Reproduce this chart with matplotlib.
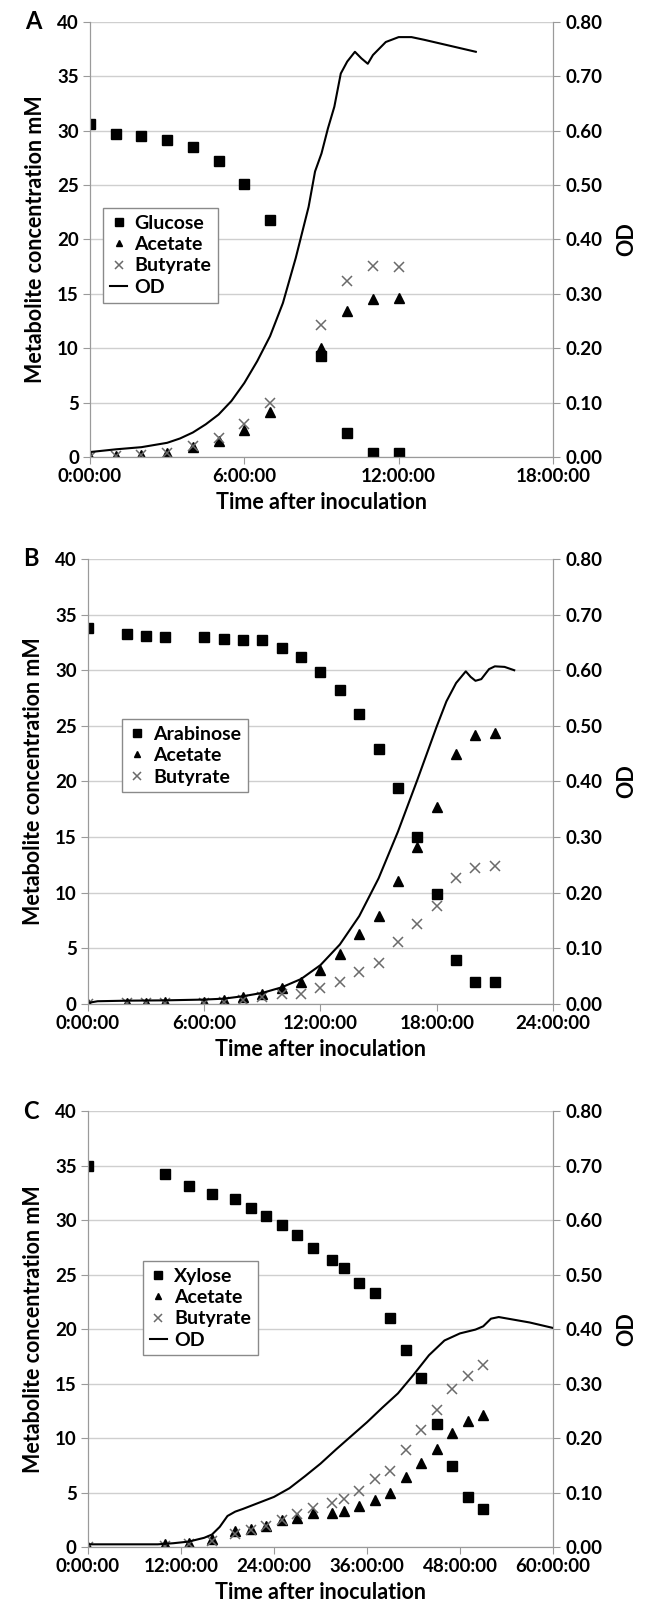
#Metabolite_and_OD_growth_curves

#Importing_Library
import numpy as np
import matplotlib
matplotlib.use('Agg')
import matplotlib.pyplot as plt

plt.rcParams['font.family'] = ['Lato', 'DejaVu Sans']
plt.rcParams['font.weight'] = 'bold'
plt.rcParams['axes.labelweight'] = 'bold'

#Data_panel_A (hours, mM, OD)
a_time = [0, 1, 2, 3, 4, 5, 6, 7, 9, 10, 11, 12]
a_glucose = [30.6, 29.7, 29.5, 29.1, 28.5, 27.2, 25.1, 21.8, 9.3, 2.2, 0.4, 0.4]
a_acetate = [0.0, 0.1, 0.2, 0.4, 0.9, 1.5, 2.5, 4.1, 10.0, 13.4, 14.5, 14.6]
a_butyrate = [0.0, 0.1, 0.2, 0.4, 1.0, 1.7, 3.0, 5.0, 12.1, 16.2, 17.6, 17.5]
a_od_time = [0, 1, 2, 3, 3.5, 4, 4.5, 5, 5.5, 6, 6.5, 7, 7.5, 8, 8.5, 8.75, 9, 9.25,
             9.5, 9.75, 10, 10.3, 10.55, 10.8, 11, 11.5, 12, 12.5, 13, 14, 15]
a_od = [0.009, 0.014, 0.018, 0.026, 0.034, 0.045, 0.060, 0.078, 0.103, 0.136, 0.176,
        0.222, 0.283, 0.366, 0.460, 0.525, 0.558, 0.604, 0.644, 0.705, 0.727, 0.745,
        0.733, 0.723, 0.739, 0.763, 0.772, 0.772, 0.767, 0.756, 0.745]

#Data_panel_B
b_time = [0, 2, 3, 4, 6, 7, 8, 9, 10, 11, 12, 13, 14, 15, 16, 17, 18, 19, 20, 21]
b_arabinose = [33.8, 33.3, 33.1, 33.0, 33.0, 32.8, 32.7, 32.7, 32.0, 31.2, 29.8, 28.2,
               26.1, 22.9, 19.4, 15.0, 9.9, 4.0, 2.0, 2.0]
b_acetate = [0.0, 0.1, 0.1, 0.15, 0.2, 0.35, 0.6, 0.9, 1.4, 2.0, 3.1, 4.5, 6.3, 7.9,
             11.1, 14.1, 17.7, 22.5, 24.2, 24.4]
b_butyrate = [0.0, 0.05, 0.05, 0.1, 0.1, 0.2, 0.4, 0.6, 0.9, 0.9, 1.4, 2.0, 2.9, 3.7,
              5.6, 7.2, 8.8, 11.3, 12.2, 12.4]
b_od_time = [0, 0.5, 2, 4, 6, 7, 8, 9, 10, 11, 12, 13, 14, 15, 16, 17, 18, 18.5, 19,
             19.5, 19.75, 20, 20.3, 20.7, 21, 21.5, 22]
b_od = [0.002, 0.005, 0.006, 0.0066, 0.008, 0.0096, 0.014, 0.020, 0.030, 0.045, 0.070,
        0.107, 0.158, 0.226, 0.310, 0.403, 0.499, 0.544, 0.577, 0.598, 0.588, 0.581,
        0.584, 0.602, 0.607, 0.606, 0.600]

#Data_panel_C
c_time = [0, 10, 13, 16, 19, 21, 23, 25, 27, 29, 31.5, 33, 35, 37, 39, 41, 43, 45, 47,
          49, 51]
c_xylose = [35.0, 34.2, 33.1, 32.4, 31.9, 31.1, 30.4, 29.5, 28.6, 27.4, 26.3, 25.6, 24.2,
            23.3, 21.0, 18.1, 15.5, 11.3, 7.4, 4.6, 3.5]
c_acetate = [0.0, 0.3, 0.4, 0.7, 1.5, 1.7, 1.9, 2.5, 2.7, 3.1, 3.1, 3.3, 3.8, 4.3, 5.0,
             6.4, 7.7, 9.0, 10.5, 11.6, 12.1]
c_butyrate = [0.0, 0.1, 0.3, 0.6, 1.2, 1.6, 1.9, 2.5, 3.0, 3.6, 4.0, 4.4, 5.1, 6.2, 7.0,
              8.9, 10.7, 12.6, 14.5, 15.7, 16.7]
c_od_time = [0, 5, 9, 11, 13, 15, 16, 17, 18, 19, 20, 22, 24, 26, 28, 30, 32, 34, 36,
             38, 40, 42, 44, 46, 48, 50, 51, 52, 53, 55, 57, 60]
c_od = [0.005, 0.005, 0.005, 0.007, 0.010, 0.017, 0.023, 0.037, 0.057, 0.065, 0.070,
        0.081, 0.092, 0.108, 0.130, 0.153, 0.179, 0.204, 0.229, 0.256, 0.282, 0.316,
        0.352, 0.379, 0.392, 0.399, 0.405, 0.419, 0.422, 0.417, 0.412, 0.402]

#Axis_ticks
ab_xticks = [0, 6, 12, 18]
ab_xlabels = ['0:00:00', '6:00:00', '12:00:00', '18:00:00']
b_xticks = [0, 6, 12, 18, 24]
b_xlabels = ['0:00:00', '6:00:00', '12:00:00', '18:00:00', '24:00:00']
c_xticks = [0, 12, 24, 36, 48, 60]
c_xlabels = ['0:00:00', '12:00:00', '24:00:00', '36:00:00', '48:00:00', '60:00:00']
conc_ticks = np.arange(0, 41, 5)
od_ticks = np.arange(0, 0.81, 0.1)

grid_col = '#cfcfcf'
spine_col = '#9a9a9a'
tick_fs = 13.5
label_fs = 15.5


def panel(rect, letter, t, sugar, sugar_name, ace, but, od_t, od, xticks, xlabels,
          leg_xy, od_in_legend):
    ax = fig.add_axes(rect)
    ax.set_xlim(xticks[0], xticks[-1])
    ax.set_ylim(0, 40)
    ax.set_yticks(conc_ticks, labels=['%d' % v for v in conc_ticks],
                  fontweight='bold')
    ax.set_xticks(xticks, labels=xlabels, fontweight='bold')
    ax.yaxis.grid(True, color=grid_col, lw=1.0)
    ax.set_axisbelow(True)
    ax.spines['top'].set_visible(False)
    for s in ['left', 'bottom', 'right']:
        ax.spines[s].set_color(spine_col)
    ax.tick_params(axis='both', direction='out', length=5, color=spine_col,
                   labelsize=tick_fs, pad=3)
    ax.set_ylabel('Metabolite concentration mM', fontsize=label_fs, fontweight='bold',
                  labelpad=8)
    ax.set_xlabel('Time after inoculation', fontsize=label_fs, fontweight='bold',
                  labelpad=5)

    h1, = ax.plot(t, sugar, ls='none', marker='s', ms=7.5, color='black',
                  label=sugar_name)
    h2, = ax.plot(t, ace, ls='none', marker='^', ms=6.5, color='black', label='Acetate')
    h3, = ax.plot(t, but, ls='none', marker='x', ms=7, mew=1.1, color='#6a6a6a',
                  label='Butyrate')

    ax2 = ax.twinx()
    ax2.set_ylim(0, 0.8)
    ax2.set_yticks(od_ticks, labels=['%.2f' % v for v in od_ticks], fontweight='bold')
    ax2.spines['top'].set_visible(False)
    for s in ['left', 'bottom', 'right']:
        ax2.spines[s].set_color(spine_col)
    ax2.tick_params(axis='y', direction='out', length=5, color=spine_col,
                    labelsize=tick_fs, pad=4)
    ax2.set_ylabel('OD', fontsize=label_fs, fontweight='bold', labelpad=10)
    h4, = ax2.plot(od_t, od, color='black', lw=1.5, label='OD')

    handles = [h1, h2, h3] + ([h4] if od_in_legend else [])
    leg = ax2.legend(handles=handles, loc='upper left', bbox_to_anchor=leg_xy,
                     prop={'size': 14, 'weight': 'bold'}, frameon=True, fancybox=False,
                     framealpha=1, edgecolor='#8a8a8a', handlelength=0.9,
                     handletextpad=0.35, labelspacing=0.22, borderpad=0.35,
                     borderaxespad=0, markerscale=0.75)
    leg.get_frame().set_linewidth(1.0)

    fig.text(rect[0] - 0.1, rect[1] + rect[3], letter, fontsize=17, fontweight='bold',
             ha='left', va='center')
    return ax


fig = plt.figure(figsize=(6.46, 16.09), dpi=100)

#Panel_A
panel([0.1393, 0.7160, 0.7167, 0.2704], 'A', a_time, a_glucose, 'Glucose', a_acetate,
      a_butyrate, a_od_time, a_od, ab_xticks, ab_xlabels, (0.028, 0.572), True)

#Panel_B
panel([0.1362, 0.3760, 0.7198, 0.2766], 'B', b_time, b_arabinose, 'Arabinose',
      b_acetate, b_butyrate, b_od_time, b_od, b_xticks, b_xlabels, (0.073, 0.64), False)

#Panel_C
panel([0.1362, 0.0385, 0.7198, 0.2710], 'C', c_time, c_xylose, 'Xylose', c_acetate,
      c_butyrate, c_od_time, c_od, c_xticks, c_xlabels, (0.118, 0.656), True)

plt.savefig('out.png', dpi=100)
